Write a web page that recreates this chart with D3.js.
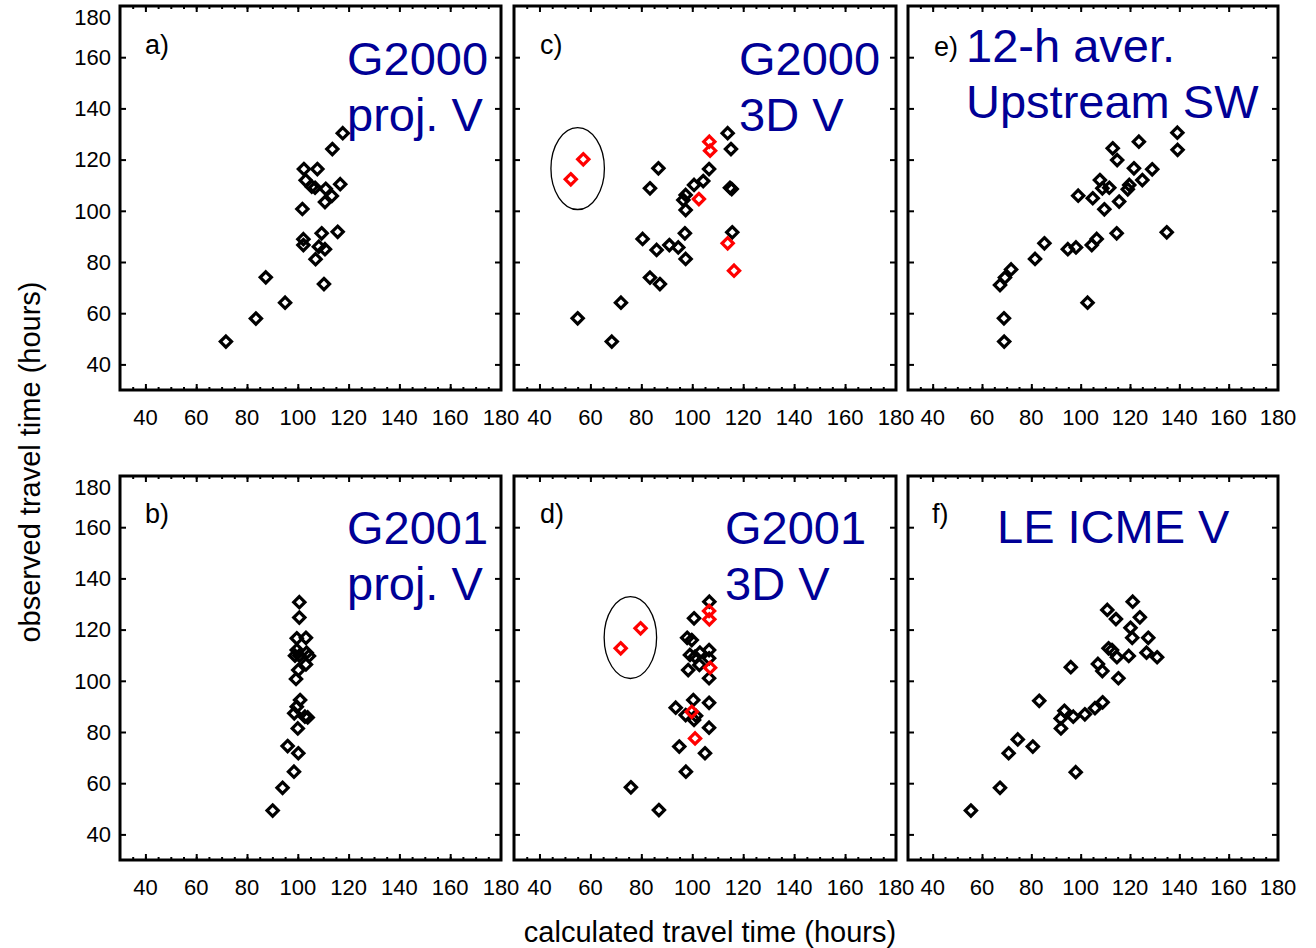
<!DOCTYPE html>
<html>
<head>
<meta charset="utf-8">
<script src="https://cdn.jsdelivr.net/npm/d3@7"></script>
<style>
  body { margin: 0; background: #fff; }
  svg { display: block; font-family: "Liberation Sans", Arial, sans-serif; }
</style>
</head>
<body>
<svg id="chart" width="1316" height="948"></svg>
<script>
// calculated vs observed travel time (hours), [x, y]
const panelA = [
  [117.7, 130.3], [113.6, 124.1], [102.4, 116.3], [107.7, 116.3], [103.1, 111.9],
  [105.5, 109.4], [106.8, 109.0], [111.0, 108.6], [116.7, 110.4], [113.4, 105.8],
  [110.7, 103.4], [101.8, 100.7], [102.2, 88.9], [102.2, 86.6], [109.4, 91.2],
  [115.7, 91.8], [108.3, 86.0], [110.7, 85.0], [107.0, 81.1], [110.3, 71.4],
  [87.4, 74.0], [95.0, 64.1], [83.5, 57.9], [71.7, 48.9]
]
const panelB = [
  [100.6, 130.7], [100.6, 124.7], [99.6, 116.6], [103.2, 116.8], [99.6, 112.0],
  [103.5, 111.0], [100.6, 109.8], [98.9, 109.8], [104.4, 109.7], [103.2, 106.4],
  [100.2, 104.2], [99.3, 100.7], [100.9, 92.5], [99.6, 89.9], [98.6, 87.3],
  [103.9, 85.7], [102.8, 86.0], [100.0, 81.4], [96.0, 74.5], [100.2, 71.7],
  [98.5, 64.5], [94.0, 58.2], [90.1, 49.3]
]
const panelC = [
  [113.9, 130.3], [115.2, 124.1], [86.7, 116.6], [106.6, 116.3], [104.3, 111.6],
  [100.7, 110.1], [83.4, 108.8], [114.8, 109.0], [115.5, 108.5], [97.4, 106.2],
  [96.5, 104.2], [97.4, 100.3], [97.1, 91.2], [115.7, 91.6], [80.5, 89.0],
  [86.0, 84.7], [91.0, 86.6], [94.5, 85.7], [97.4, 81.2], [83.4, 73.9],
  [87.3, 71.4], [72.0, 64.1], [55.0, 58.0], [68.4, 48.9]
]
const panelCRed = [
  [106.7, 127.0], [107.0, 123.5], [102.6, 104.6], [113.9, 87.3], [116.4, 76.6],
  [57.2, 120.1], [52.3, 112.3]
]
const panelD = [
  [106.7, 130.9], [100.7, 124.4], [98.0, 116.8], [99.8, 115.9], [106.6, 112.0],
  [103.0, 111.0], [99.1, 110.1], [101.1, 109.4], [106.6, 108.8], [102.8, 106.2],
  [98.4, 104.2], [106.6, 101.0], [100.4, 92.5], [106.6, 91.4], [93.5, 89.5],
  [97.4, 86.6], [101.5, 86.3], [100.7, 84.7], [106.6, 81.7], [94.9, 74.3],
  [105.0, 71.7], [97.5, 64.5], [75.9, 58.4], [86.9, 49.5]
]
const panelDRed = [
  [106.6, 127.3], [106.7, 124.0], [107.0, 105.1], [99.8, 87.9], [101.1, 77.5],
  [71.9, 112.7], [79.7, 120.5]
]
const panelE = [
  [139.2, 130.5], [139.3, 123.8], [123.6, 127.0], [113.0, 124.4], [114.8, 119.8],
  [121.6, 116.6], [129.0, 116.2], [125.0, 112.0], [107.8, 112.0], [108.8, 108.8],
  [111.6, 109.0], [119.7, 110.1], [119.1, 108.4], [99.0, 105.9], [104.9, 104.9],
  [115.6, 103.6], [109.6, 100.6], [114.6, 91.2], [134.9, 91.6], [106.5, 89.0],
  [104.5, 86.6], [94.8, 85.0], [98.1, 85.7], [85.3, 87.3], [81.5, 81.2],
  [71.8, 77.1], [69.3, 73.9], [67.3, 71.0], [102.8, 64.1], [68.9, 58.0],
  [69.0, 48.9]
]
const panelF = [
  [121.1, 130.9], [110.8, 127.7], [114.3, 124.1], [124.0, 124.8], [120.2, 120.7],
  [120.9, 116.8], [127.4, 116.8], [111.3, 112.7], [112.7, 112.0], [114.7, 109.2],
  [119.5, 109.7], [126.7, 111.0], [131.0, 109.2], [96.0, 105.3], [107.0, 106.6],
  [108.8, 103.8], [115.3, 101.0], [83.2, 92.2], [93.4, 88.3], [91.9, 85.3],
  [97.0, 86.0], [101.7, 86.9], [105.8, 89.3], [108.9, 91.6], [92.0, 81.4],
  [74.5, 77.1], [80.6, 74.3], [70.8, 71.7], [98.0, 64.3], [67.3, 58.2],
  [55.5, 49.3]
]

// outlier ellipses in data units: [cx, cy, rx, ry]
const ellipseC = [55.0, 116.5, 10.5, 16.0]
const ellipseD = [75.7, 116.9, 10.3, 16.0]

const axisDomain = [30, 180]
const tickLabels = [40, 60, 80, 100, 120, 140, 160, 180]

const blue = '#000096'
const svg = d3.select('#chart')

const cols = [[120, 501], [514, 896], [908, 1278]]
const rows = [[6, 390], [476, 860]]

const panels = [
  { col: 0, row: 0, pts: panelA, tag: 'a)', tagPos: [145, 54], title: ['G2000', 'proj. V'], titlePos: [347, 75] },
  { col: 0, row: 1, pts: panelB, tag: 'b)', tagPos: [145, 523], title: ['G2001', 'proj. V'], titlePos: [347, 544] },
  { col: 1, row: 0, pts: panelC, red: panelCRed, ell: ellipseC, tag: 'c)', tagPos: [540, 54], title: ['G2000', '3D V'], titlePos: [739, 75] },
  { col: 1, row: 1, pts: panelD, red: panelDRed, ell: ellipseD, tag: 'd)', tagPos: [540, 523], title: ['G2001', '3D V'], titlePos: [725, 544] },
  { col: 2, row: 0, pts: panelE, tag: 'e)', tagPos: [934, 56], title: ['12-h aver.', 'Upstream SW'], titlePos: [966, 62] },
  { col: 2, row: 1, pts: panelF, tag: 'f)', tagPos: [932, 523], title: ['LE ICME V'], titlePos: [997, 543] }
]

const diamond = d3.symbol().type(d3.symbolDiamond2).size(80)

panels.forEach(p => {
  const [x0, x1] = cols[p.col]
  const [y0, y1] = rows[p.row]
  const x = d3.scaleLinear().domain(axisDomain).range([x0, x1])
  const y = d3.scaleLinear().domain(axisDomain).range([y1, y0])
  const g = svg.append('g')

  const minor = d3.range(35, 180, 5)
  const major = d3.range(40, 180, 20)

  // bottom / top ticks, pointing inward
  g.append('g').attr('transform', `translate(0,${y1})`)
    .call(d3.axisBottom(x).tickValues(minor).tickSize(-3).tickFormat(''))
  g.append('g').attr('transform', `translate(0,${y1})`)
    .call(d3.axisBottom(x).tickValues(major).tickSize(-6).tickFormat(''))
  g.append('g').attr('transform', `translate(0,${y0})`)
    .call(d3.axisTop(x).tickValues(minor).tickSize(-3).tickFormat(''))
  g.append('g').attr('transform', `translate(0,${y0})`)
    .call(d3.axisTop(x).tickValues(major).tickSize(-6).tickFormat(''))
  g.append('g').attr('transform', `translate(${x0},0)`)
    .call(d3.axisLeft(y).tickValues(major).tickSize(-6).tickFormat(''))
  g.append('g').attr('transform', `translate(${x1},0)`)
    .call(d3.axisRight(y).tickValues(major).tickSize(-6).tickFormat(''))
  g.selectAll('.domain').remove()
  g.selectAll('.tick line').attr('stroke', '#000').attr('stroke-width', 2)

  // tick labels (y labels only on the left column)
  g.selectAll('.xlab').data(tickLabels).join('text')
    .attr('x', d => x(d)).attr('y', y1 + 27).attr('dy', '0.35em')
    .attr('text-anchor', 'middle').attr('font-size', 22).text(d => d)
  if (p.col === 0) {
    g.selectAll('.ylab').data(tickLabels).join('text')
      .attr('x', x0 - 9).attr('y', d => Math.max(y(d), y0 + 11)).attr('dy', '0.35em')
      .attr('text-anchor', 'end').attr('font-size', 22).text(d => d)
  }

  g.append('rect')
    .attr('x', x0).attr('y', y0).attr('width', x1 - x0).attr('height', y1 - y0)
    .attr('fill', 'none').attr('stroke', '#000').attr('stroke-width', 3)

  g.append('text').attr('x', p.tagPos[0]).attr('y', p.tagPos[1])
    .attr('font-size', 27).text(p.tag)
  p.title.forEach((t, i) => {
    g.append('text').attr('x', p.titlePos[0]).attr('y', p.titlePos[1] + i * 56)
      .attr('font-size', 47).attr('fill', blue).text(t)
  })

  if (p.ell) {
    const [cx, cy, rx, ry] = p.ell
    g.append('ellipse')
      .attr('cx', x(cx)).attr('cy', y(cy))
      .attr('rx', x(cx + rx) - x(cx)).attr('ry', y(cy) - y(cy + ry))
      .attr('fill', 'none').attr('stroke', '#000').attr('stroke-width', 1.3)
  }

  g.selectAll('.pt').data(p.pts).join('path')
    .attr('transform', d => `translate(${x(d[0])},${y(d[1])})`)
    .attr('d', diamond)
    .attr('fill', 'none').attr('stroke', '#000').attr('stroke-width', 3.2)

  if (p.red) {
    g.selectAll('.red').data(p.red).join('path')
      .attr('transform', d => `translate(${x(d[0])},${y(d[1])})`)
      .attr('d', diamond)
      .attr('fill', 'none').attr('stroke', '#f00').attr('stroke-width', 3.2)
  }
})

svg.append('text')
  .attr('transform', 'translate(40,462) rotate(-90)')
  .attr('text-anchor', 'middle').attr('font-size', 29)
  .text('observed travel time (hours)')
svg.append('text')
  .attr('x', 710).attr('y', 942)
  .attr('text-anchor', 'middle').attr('font-size', 29)
  .text('calculated travel time (hours)')
</script>
</body>
</html>
